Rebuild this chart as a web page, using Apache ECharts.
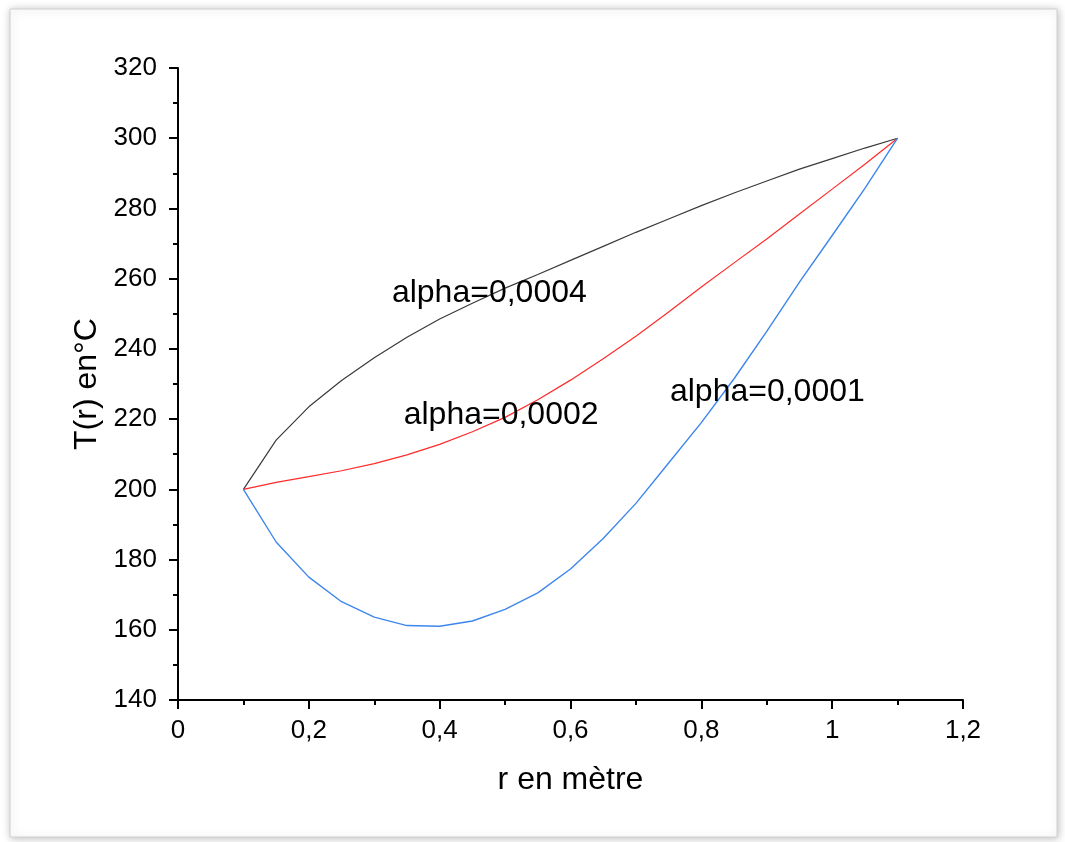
<!DOCTYPE html>
<html>
<head>
<meta charset="utf-8">
<script src="https://cdn.jsdelivr.net/npm/echarts@6/dist/echarts.min.js"></script>
<style>
  html, body { margin: 0; padding: 0; background: #ffffff; }
  #chart { width: 1065px; height: 842px; }
</style>
</head>
<body>
<div id="chart"></div>
<script>
// Radius (m) sampled every 0.05 between the inner and outer wall
const radius = [0.1, 0.15, 0.2, 0.25, 0.3, 0.35, 0.4, 0.45, 0.5, 0.55, 0.6,
                0.65, 0.7, 0.75, 0.8, 0.85, 0.9, 0.95, 1.0, 1.05, 1.1];

// Temperature profiles T(r) in °C for each alpha
const tAlpha0004 = [200, 214, 223.5, 231, 237.5, 243.3, 248.5, 253, 257.3, 261.2, 265.2,
                    269.2, 273.2, 277, 280.8, 284.4, 287.8, 291.2, 294.2, 297.2, 300];
const tAlpha0002 = [200, 202, 203.6, 205.3, 207.3, 209.8, 212.8, 216.4, 220.5, 225.5, 231.1,
                    237.2, 243.6, 250.5, 257.6, 264.5, 271.3, 278.4, 285.5, 292.6, 300];
const tAlpha0001 = [200, 185, 175, 168, 163.6, 161.2, 161, 162.5, 165.8, 170.5, 177.3,
                    186, 196, 207.5, 219, 231.5, 245, 259, 272.3, 285.7, 300];

// Curve annotations: [text, r, T]
const curveNotes = [
  ['alpha=0,0004', 0.327, 255.9],
  ['alpha=0,0002', 0.345, 221.2],
  ['alpha=0,0001', 0.752, 227.7]
];

const FONT = '"Liberation Sans", Arial, sans-serif';

function pairs(xs, ys) {
  return xs.map((x, i) => [x, ys[i]]);
}
function decimalComma(v) {
  return String(+v.toFixed(2)).replace('.', ',');
}

const chart = echarts.init(document.getElementById('chart'), null, { renderer: 'canvas' });

const axisCommon = {
  axisLine: { show: true, onZero: false, lineStyle: { color: '#000', width: 2 } },
  axisTick: { show: true, inside: false, length: 9, lineStyle: { color: '#000', width: 2 } },
  minorTick: { show: true, splitNumber: 2, length: 5, lineStyle: { color: '#000', width: 2 } },
  splitLine: { show: false },
  minorSplitLine: { show: false },
  nameLocation: 'middle',
  nameTextStyle: { fontFamily: FONT, fontSize: 32, color: '#000' }
};

chart.setOption({
  backgroundColor: '#ffffff',
  animation: false,
  graphic: [{
    type: 'rect',
    z: -10,
    silent: true,
    shape: { x: 10, y: 9, width: 1047, height: 828 },
    style: {
      fill: '#ffffff',
      stroke: '#d0d0d0',
      lineWidth: 1,
      shadowBlur: 8,
      shadowColor: 'rgba(0,0,0,0.25)',
      shadowOffsetX: 1,
      shadowOffsetY: 1
    }
  }],
  grid: { left: 178, right: 102, top: 68, bottom: 142, containLabel: false },
  xAxis: Object.assign({}, axisCommon, {
    type: 'value',
    min: 0,
    max: 1.2,
    interval: 0.2,
    name: 'r en mètre',
    nameGap: 64,
    axisLabel: {
      margin: 18,
      fontFamily: FONT,
      fontSize: 26,
      color: '#000',
      formatter: decimalComma
    }
  }),
  yAxis: Object.assign({}, axisCommon, {
    type: 'value',
    min: 140,
    max: 320,
    interval: 20,
    name: 'T(r) en°C',
    nameGap: 70,
    axisLabel: {
      margin: 21,
      fontFamily: FONT,
      fontSize: 26,
      color: '#000',
      formatter: decimalComma
    }
  }),
  series: [
    {
      name: 'alpha=0,0004',
      type: 'line',
      data: pairs(radius, tAlpha0004),
      showSymbol: false,
      lineStyle: { color: '#3a3a3a', width: 1.2 },
      z: 3
    },
    {
      name: 'alpha=0,0002',
      type: 'line',
      data: pairs(radius, tAlpha0002),
      showSymbol: false,
      lineStyle: { color: '#ff2a2a', width: 1.2 },
      z: 3
    },
    {
      name: 'alpha=0,0001',
      type: 'line',
      data: pairs(radius, tAlpha0001),
      showSymbol: false,
      lineStyle: { color: '#3d86ee', width: 1.4 },
      z: 3
    },
    {
      name: 'notes',
      type: 'scatter',
      symbolSize: 0,
      silent: true,
      z: 5,
      itemStyle: { opacity: 1, color: '#000' },
      data: curveNotes.map(n => ({ value: [n[1], n[2]], name: n[0] })),
      label: {
        show: true,
        position: 'right',
        distance: 0,
        formatter: p => p.name,
        fontFamily: FONT,
        fontSize: 32,
        color: '#000',
        opacity: 1,
        textBorderWidth: 0,
        align: 'left',
        verticalAlign: 'middle'
      }
    }
  ]
});
</script>
</body>
</html>
